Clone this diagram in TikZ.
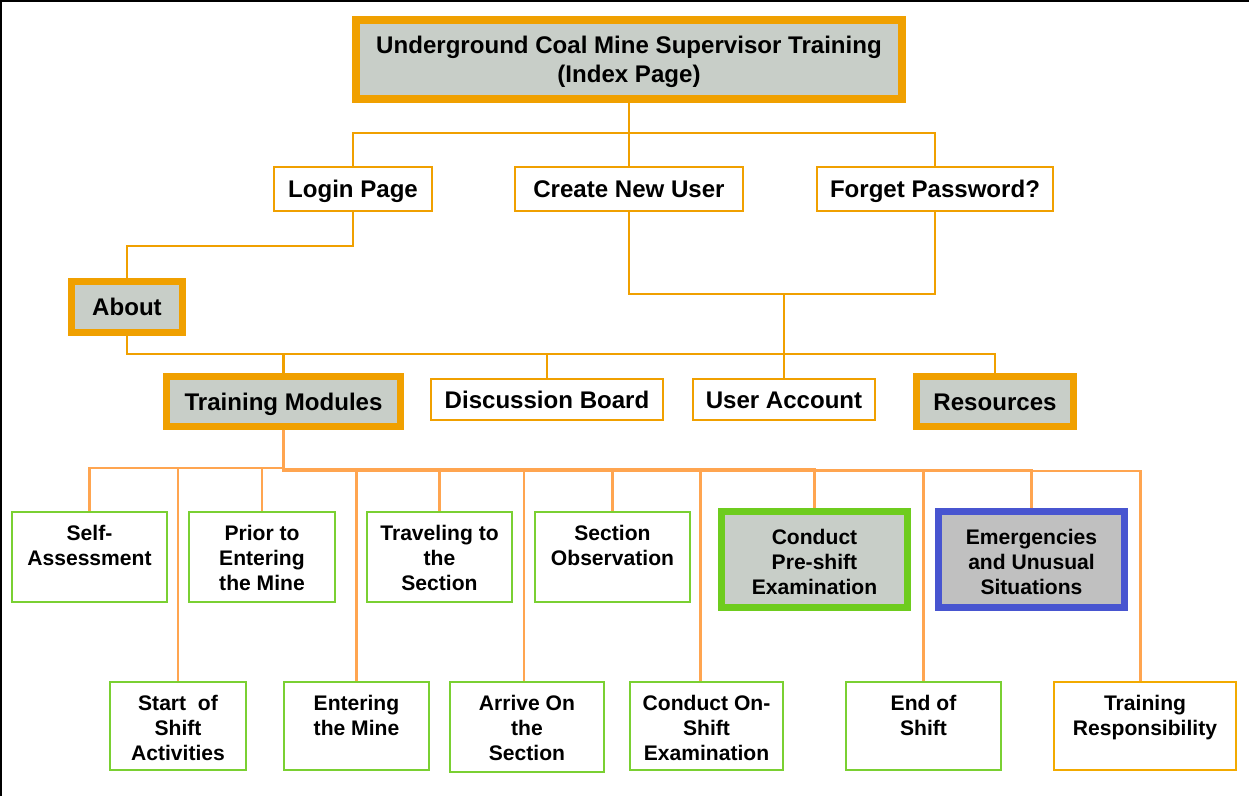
\documentclass[tikz,border=0pt]{standalone}
\usepackage{fontspec}
\setmainfont{Liberation Sans}
\usetikzlibrary{fit,calc}

\definecolor{amber}{RGB}{240,160,0}
\definecolor{lorange}{RGB}{255,165,80}
\definecolor{boxgray}{RGB}{200,206,200}
\definecolor{emgray}{RGB}{192,192,192}
\definecolor{lgreen}{RGB}{122,208,50}
\definecolor{dgreen}{RGB}{110,204,30}
\definecolor{eblue}{RGB}{72,85,208}

\begin{document}
\begin{tikzpicture}[x=0.02cm,y=-0.02cm,
  box/.style={inner sep=0pt},
  thinO/.style={box,draw=amber,line width=1.2pt,fill=white},
  thickO/.style={box,draw=amber,line width=3.97pt,fill=boxgray},
  thinG/.style={box,draw=lgreen,line width=1.2pt,fill=white},
  thickG/.style={box,draw=dgreen,line width=3.97pt,fill=boxgray},
  thickB/.style={box,draw=eblue,line width=3.97pt,fill=emgray},
  bigtxt/.style={inner sep=0pt,align=center,
    font=\fontsize{13.7pt}{16.4pt}\selectfont\bfseries},
  onetxt/.style={bigtxt,text height=9.8pt,text depth=0pt},
  smalltxt/.style={inner sep=0pt,align=center,anchor=north,
    font=\fontsize{12pt}{14.1pt}\selectfont\bfseries},
  conn/.style={draw=amber,line width=1.25pt},
  conn2/.style={draw=lorange,line width=1.3pt}]

\useasboundingbox (0,0) rectangle (1249,796);

% outer frame (left and top edges)
\draw[line width=1.2pt] (1,796) -- (1,1) -- (1249,1);

% ---- top level ----
\node[thickO,line width=4.5pt,fit={(356,20)(902,99)}] (top) {};
\node[bigtxt,anchor=north] (topT) at (629,36)
  {Underground Coal Mine Supervisor Training\\(Index Page)};

\node[thinO,fit={(274,167)(432,211)}] (login) {};
\node[onetxt] (loginT) at (login) {Login Page};
\node[thinO,fit={(515,167)(743,211)}] (create) {};
\node[onetxt] (createT) at (create) {Create New User};
\node[thinO,fit={(817,167)(1053,211)}] (forget) {};
\node[onetxt] (forgetT) at (forget) {Forget Password?};

\node[thickO,fit={(71.5,281.5)(182.5,332.5)}] (about) {};
\node[onetxt] (aboutT) at (about) {About};

\node[thickO,fit={(166.5,376.5)(400.5,426.5)}] (tm) {};
\node[onetxt] (tmT) at (tm) {Training Modules};
\node[thinO,fit={(431,379)(663,420)}] (disc) {};
\node[onetxt] (discT) at (disc) {Discussion Board};
\node[thinO,fit={(693,379)(875,420)}] (ua) {};
\node[onetxt] (uaT) at (ua) {User Account};
\node[thickO,fit={(916.5,376.5)(1073.5,426.5)}] (res) {};
\node[onetxt] (resT) at (res) {Resources};

% ---- training modules, upper row ----
\node[thinG,fit={(12,512)(167,602)}] (sa) {};
\node[smalltxt] (saT) at ($(sa.north)+(0,14)$) {Self-\\Assessment};
\node[thinG,fit={(189,512)(335,602)}] (prior) {};
\node[smalltxt] (priorT) at ($(prior.north)+(0,14)$) {Prior to\\Entering\\the Mine};
\node[thinG,fit={(367,512)(512,602)}] (travel) {};
\node[smalltxt] (travelT) at ($(travel.north)+(0,14)$) {Traveling to\\the\\Section};
\node[thinG,fit={(535,512)(690,602)}] (secobs) {};
\node[smalltxt] (secobsT) at ($(secobs.north)+(0,14)$) {Section\\Observation};
\node[thickG,fit={(721.5,511.5)(907.5,607.5)}] (pre) {};
\node[smalltxt] (preT) at ($(pre.north)+(0,21)$) {Conduct\\Pre-shift\\Examination};
\node[thickB,fit={(938.5,511.5)(1124.5,607.5)}] (emerg) {};
\node[smalltxt] (emergT) at ($(emerg.north)+(0,21)$) {Emergencies\\and Unusual\\Situations};

% ---- training modules, lower row ----
\node[thinG,fit={(110,682)(246,770)}] (start) {};
\node[smalltxt] (startT) at ($(start.north)+(0,14)$) {Start\ \ of\\Shift\\Activities};
\node[thinG,fit={(284,682)(429,770)}] (enter) {};
\node[smalltxt] (enterT) at ($(enter.north)+(0,14)$) {Entering\\the Mine};
\node[thinG,fit={(450,682)(604,772)}] (arrive) {};
\node[smalltxt] (arriveT) at ($(arrive.north)+(0,14)$) {Arrive On\\the\\Section};
\node[thinG,fit={(630,682)(783,770)}] (onshift) {};
\node[smalltxt] (onshiftT) at ($(onshift.north)+(0,14)$) {Conduct On-\\Shift\\Examination};
\node[thinG,fit={(846,682)(1001,770)}] (endshift) {};
\node[smalltxt] (endshiftT) at ($(endshift.north)+(0,14)$) {End of\\Shift};
\node[thinO,draw=amber!90!yellow,fit={(1054,682)(1236,770)}] (resp) {};
\node[smalltxt] (respT) at ($(resp.north)+(0,14)$) {Training\\Responsibility};

% ---- connectors: index page ----
\draw[conn] (top.south) -- (create.north);
\draw[conn] (top.south) -- ++(0,30) -| (login.north);
\draw[conn] (top.south) -- ++(0,30) -| (forget.north);
\draw[conn] (login.south) -- ++(0,34) -| (about.north);
\draw[conn] (create.south) -- ++(0,82) coordinate (jn) -| (forget.south);
\draw[conn] (jn -| ua.north) -- (ua.north);
\draw[conn] (about.south) -- ++(0,18) -| (tm.north);
\draw[conn] (about.south) -- ++(0,18) -| (disc.north);
\draw[conn] (about.south) -- ++(0,18) -| (ua.north);
\draw[conn] (about.south) -- ++(0,18) -| (res.north);

% ---- connectors: training modules ----
\draw[conn2] (tm.south) -- ++(0,38) -| (sa.north);
\draw[conn2] (tm.south) -- ++(0,38) -| (start.north);
\draw[conn2] (tm.south) -- ++(0,38) -| (prior.north);
\draw[conn2] (tm.south) -- ++(0,39) -| (enter.north);
\draw[conn2] (tm.south) -- ++(0,39) -| (travel.north);
\draw[conn2] (tm.south) -- ++(0,39) -| ($(arrive.north)+(-3,0)$);
\draw[conn2] (tm.south) -- ++(0,39) -| (secobs.north);
\draw[conn2] (tm.south) -- ++(0,39) -| ($(onshift.north)+(-6,0)$);
\draw[conn2] (tm.south) -- ++(0,39) -| (pre.north);
\draw[conn2] (tm.south) -- ++(0,40.5) -| (endshift.north);
\draw[conn2] (tm.south) -- ++(0,40.5) -| (emerg.north);
\draw[conn2] (tm.south) -- ++(0,41) -| ($(resp.north)+(-4.5,0)$);
\end{tikzpicture}
\end{document}
